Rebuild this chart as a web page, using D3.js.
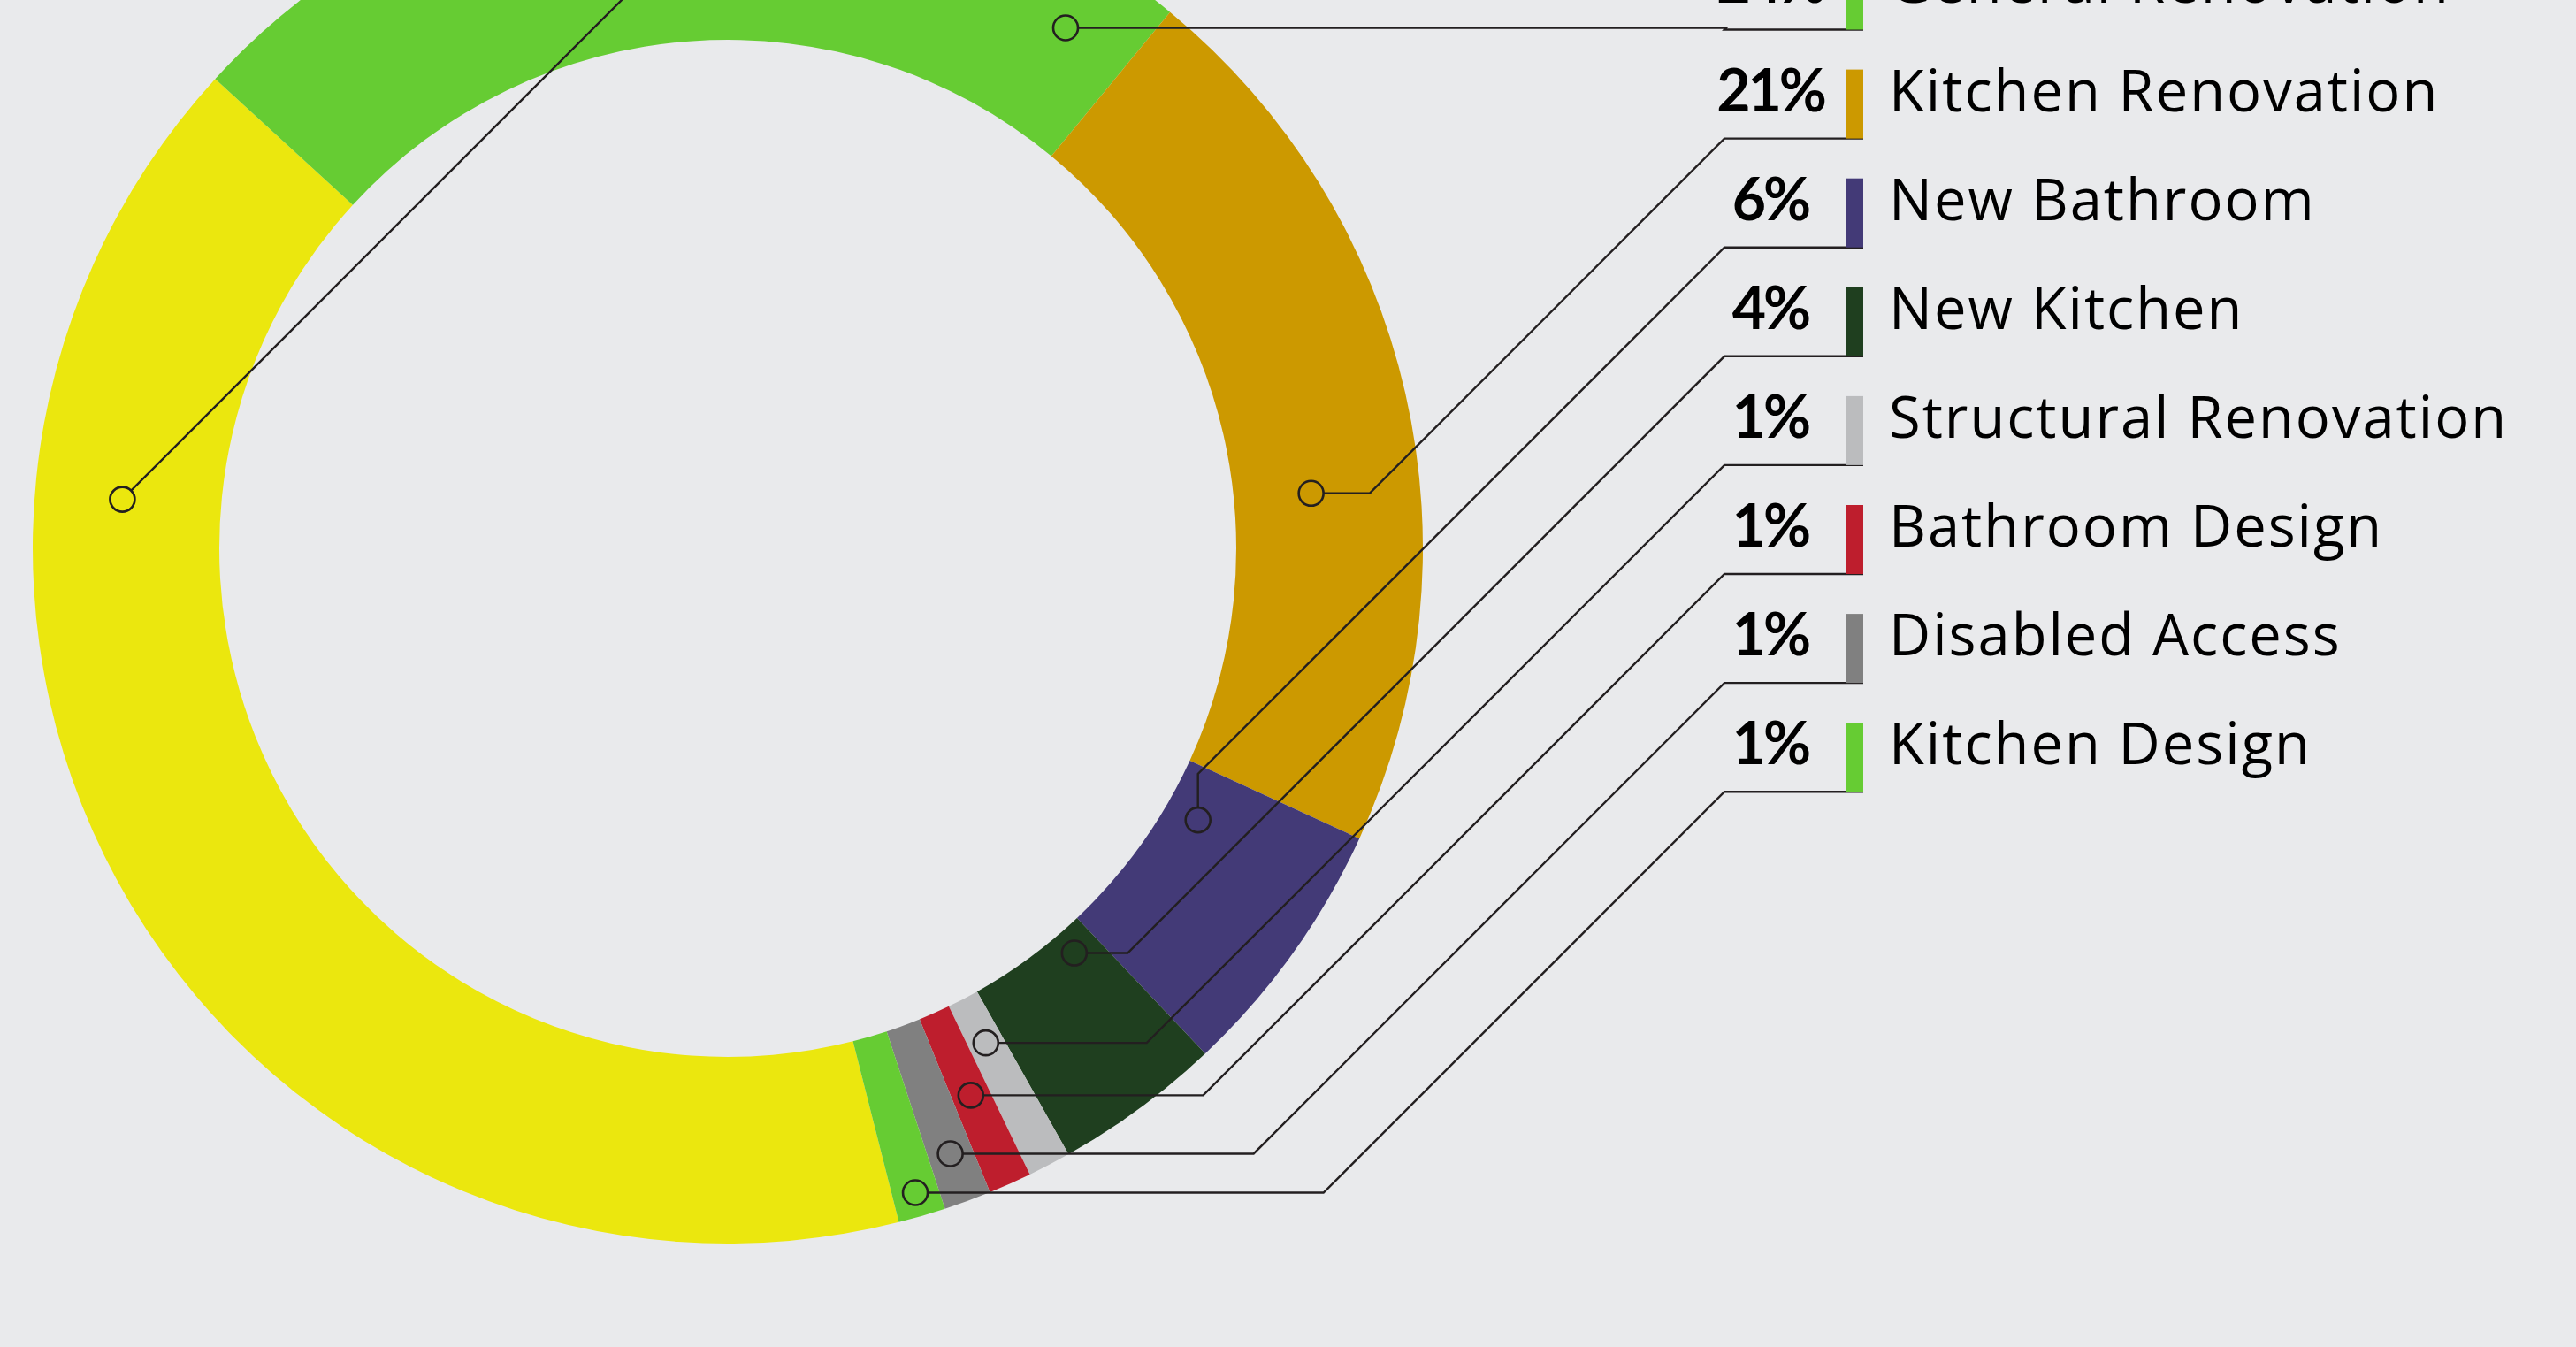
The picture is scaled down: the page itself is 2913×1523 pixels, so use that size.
<!DOCTYPE html>
<html>
<head>
<meta charset="utf-8">
<script src="https://cdn.jsdelivr.net/npm/d3@7"></script>
<style>
  html, body { margin: 0; padding: 0; background: #e9eaec; overflow: hidden; }
  svg { display: block; }
</style>
</head>
<body>
<div id="chart"></div>
<script>
// legend order, top to bottom (first row sits above the visible area)
const categories = [
  "Bathroom Renovation",
  "General Renovation",
  "Kitchen Renovation",
  "New Bathroom",
  "New Kitchen",
  "Structural Renovation",
  "Bathroom Design",
  "Disabled Access",
  "Kitchen Design",
];
const shares = [40.8, 24.2, 20.9, 6.1, 3.9, 1.0, 1.0, 1.1, 1.1];
const percentLabels = ["41%", "24%", "21%", "6%", "4%", "1%", "1%", "1%", "1%"];
const colors = ["#ebe70e", "#66cc33", "#cc9900", "#433a77", "#1f3f1f", "#bbbcbe", "#be1e2d", "#808080", "#66cc33"];

// where each leader dot sits: [fraction along slice, fraction across ring]
const dotAnchors = [
  [0.742, 0.53], [0.925, 0.6], [0.6, 0.415], [0.243, 0.185], [0.2, 0.13],
  [0.5, 0.264], [0.5, 0.482], [0.5, 0.731], [0.5, 0.871],
];
// the big yellow slice runs its diagonal straight out of the dot
const diagonalFirst = [true, false, false, false, false, false, false, false, false];

const width = 2913;
const height = 1523;
const cx = 823;
const cy = 620;
const innerR = 575;
const outerR = 786;
const startDeg = 165.75;

const svg = d3
  .select("#chart")
  .append("svg")
  .attr("width", width)
  .attr("height", height);

svg.append("rect").attr("width", width).attr("height", height).attr("fill", "#e9eaec");

const pie = d3
  .pie()
  .sort(null)
  .value((d) => d)
  .startAngle((startDeg * Math.PI) / 180)
  .endAngle((startDeg * Math.PI) / 180 + 2 * Math.PI);

const arcs = pie(shares);

const arc = d3.arc().innerRadius(innerR).outerRadius(outerR);

const ring = svg.append("g").attr("transform", `translate(${cx},${cy})`);

ring
  .selectAll(".slice")
  .data(arcs)
  .enter()
  .append("path")
  .attr("class", "slice")
  .attr("d", arc)
  .attr("fill", (d, i) => colors[i]);

// legend rows (row index 1 = General Renovation at the top edge)
const rowY = d3.scaleLinear().domain([1, 8]).range([33.5, 895.2]);
const elbowX = 1950;
const barX = 2088;
const barW = 19;
const barH = 78;
const dotR = 14;
const ink = "#231f20";

const dots = arcs.map((d, i) => {
  const a = d.startAngle + dotAnchors[i][0] * (d.endAngle - d.startAngle);
  const r = innerR + dotAnchors[i][1] * (outerR - innerR);
  return { x: cx + r * Math.sin(a), y: cy - r * Math.cos(a) };
});

const leaderPath = (dot, y, i) => {
  const barRight = barX + barW;
  if (diagonalFirst[i]) {
    const s = dotR * Math.SQRT1_2;
    return `M${dot.x + s},${dot.y - s}L${dot.x + (dot.y - y)},${y}H${barRight}`;
  }
  const kneeX = elbowX - (dot.y - y);
  if (kneeX >= dot.x) {
    return `M${dot.x + dotR},${dot.y}H${kneeX}L${elbowX},${y}H${barRight}`;
  }
  const kneeY = y + (elbowX - dot.x);
  return `M${dot.x},${dot.y - dotR}V${kneeY}L${elbowX},${y}H${barRight}`;
};

const leaders = svg.append("g");

leaders
  .selectAll(".leader")
  .data(categories)
  .enter()
  .append("path")
  .attr("class", "leader")
  .attr("d", (d, i) => leaderPath(dots[i], rowY(i), i))
  .attr("fill", "none")
  .attr("stroke", ink)
  .attr("stroke-width", 2.4);

leaders
  .selectAll(".dot")
  .data(dots)
  .enter()
  .append("circle")
  .attr("class", "dot")
  .attr("cx", (d) => d.x)
  .attr("cy", (d) => d.y)
  .attr("r", dotR)
  .attr("fill", "none")
  .attr("stroke", ink)
  .attr("stroke-width", 2.6);

const legend = svg
  .append("g")
  .selectAll(".row")
  .data(categories)
  .enter()
  .append("g")
  .attr("class", "row")
  .attr("transform", (d, i) => `translate(0,${rowY(i)})`);

legend
  .append("rect")
  .attr("x", barX)
  .attr("y", -barH)
  .attr("width", barW)
  .attr("height", barH)
  .attr("fill", (d, i) => colors[i]);

legend
  .append("text")
  .attr("x", 2002)
  .attr("y", -31)
  .attr("text-anchor", "middle")
  .style("font-family", "Lato, 'Open Sans', sans-serif")
  .style("font-weight", "bold")
  .style("font-size", "66px")
  .style("letter-spacing", "-3px")
  .attr("fill", "#000")
  .text((d, i) => percentLabels[i]);

legend
  .append("text")
  .attr("x", 2136)
  .attr("y", -31)
  .style("font-family", "'Open Sans', Lato, sans-serif")
  .style("font-size", "65px")
  .style("letter-spacing", "2px")
  .attr("fill", "#000")
  .text((d) => d);
</script>
</body>
</html>
